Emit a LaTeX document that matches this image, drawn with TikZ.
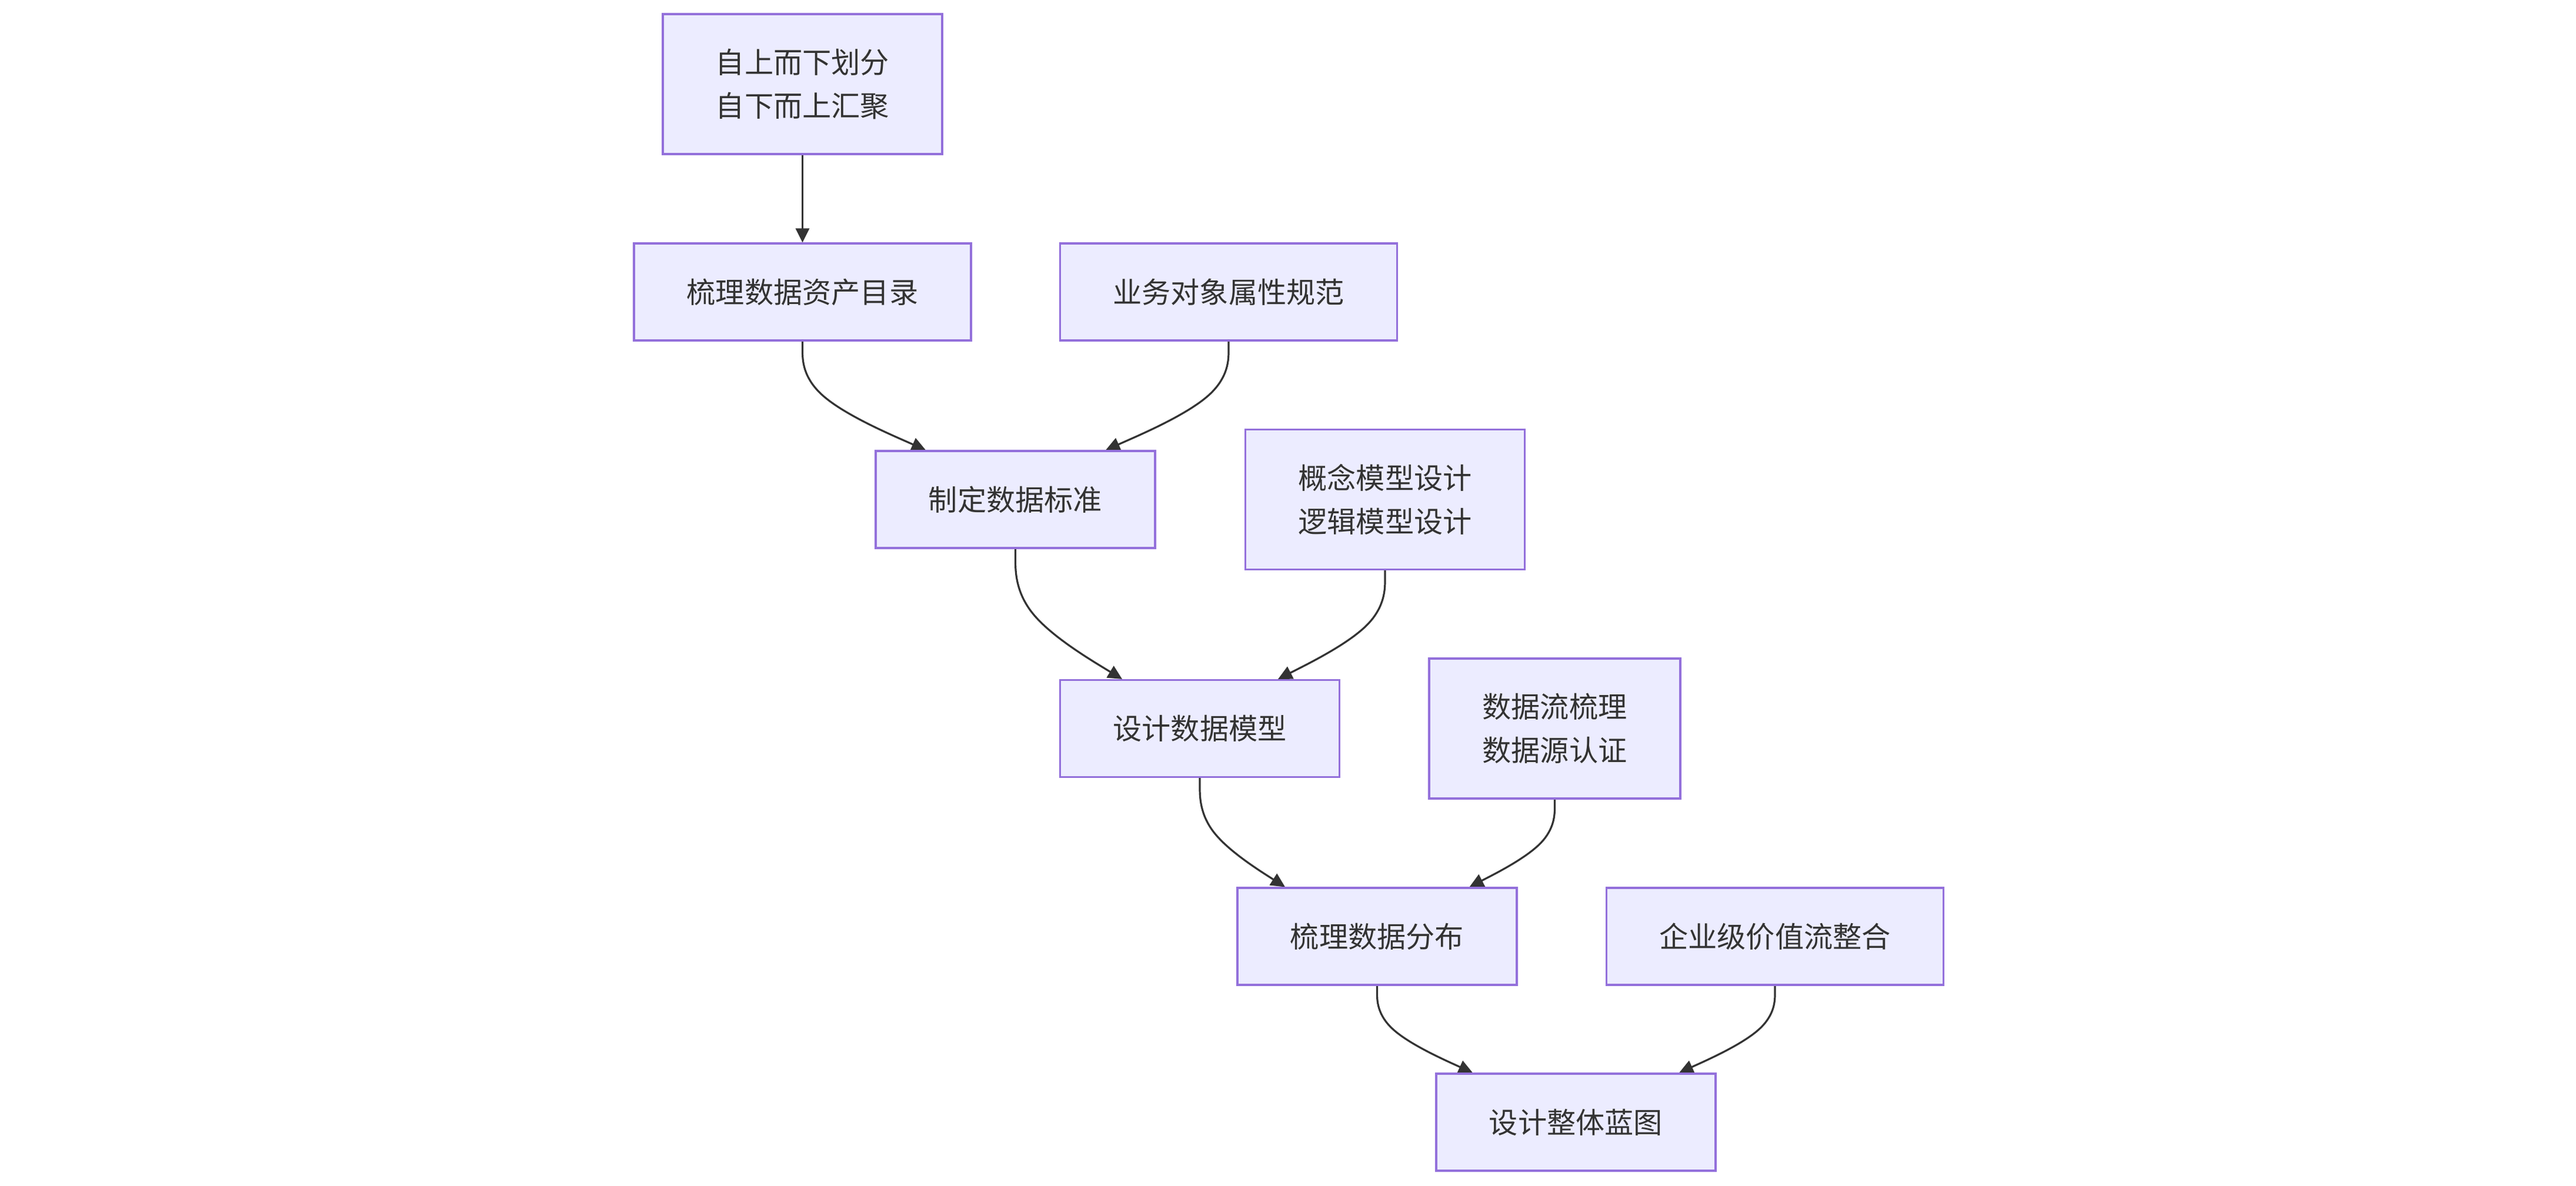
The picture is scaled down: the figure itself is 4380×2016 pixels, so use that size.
\documentclass[tikz,border=0pt]{standalone}
\usepackage{fontspec}
\newfontfamily\cjk{Noto Sans CJK SC}
\usetikzlibrary{arrows.meta,calc,backgrounds}
\definecolor{nodefill}{HTML}{ECECFF}
\definecolor{nodeline}{HTML}{9370DB}
\definecolor{ink}{HTML}{333333}
\newcommand\basisedge[3]{%
  \draw[edge] let \p1=(#1.south), \p2=($(#2.north)+(#3,0)$), \p3=($(\p1)!0.5!(\p2)$) in
    (\p1) -- (\x1,{(5*\y1+\y3)/6})
    .. controls (\x1,{(2*\y1+\y3)/3}) and (\x1,{(\y1+2*\y3)/3})
    .. ({(5*\x1+\x2)/6},{(\y1+4*\y3+\y2)/6})
    .. controls ({(2*\x1+\x2)/3},{(2*\y3+\y2)/3}) and ({(\x1+2*\x2)/3},{(\y3+2*\y2)/3})
    .. ({(\x1+5*\x2)/6},{(\y3+5*\y2)/6}) -- (\p2);%
}
\begin{document}
\begin{tikzpicture}[x=0.25pt,y=-0.25pt,
  box/.style={draw=nodeline, fill=nodefill, line width=0.8pt, text=ink,
    font=\cjk\fontsize{12.3}{18.6}\selectfont, align=center, inner sep=0pt},
  wide/.style={minimum width=143.25pt},
  mid/.style={minimum width=118.75pt},
  narrow/.style={minimum width=106.75pt},
  one/.style={minimum height=41.25pt},
  two/.style={minimum height=59.5pt},
  edge/.style={draw=ink, line width=0.8pt, -{Triangle[length=6pt,width=5.75pt]}}]
\useasboundingbox (0,0) rectangle (4380,2016);
\node[box,mid,two]    (A) at (1364.5,143)   {自上而下划分\\自下而上汇聚};
\node[box,wide,one]   (B) at (1364.5,496.5) {梳理数据资产目录};
\node[box,wide,one]   (C) at (2089,496.5)   {业务对象属性规范};
\node[box,mid,one]    (D) at (1726.5,849.5) {制定数据标准};
\node[box,mid,two]    (E) at (2355,849.5)   {概念模型设计\\逻辑模型设计};
\node[box,mid,one]    (F) at (2040,1239)    {设计数据模型};
\node[box,narrow,two] (G) at (2643.5,1239)  {数据流梳理\\数据源认证};
\node[box,mid,one]    (H) at (2341.5,1592.5){梳理数据分布};
\node[box,wide,one]   (I) at (3018,1592.5)  {企业级价值流整合};
\node[box,mid,one]    (J) at (2679.5,1908.5){设计整体蓝图};
\begin{pgfonlayer}{background}
  \fill[white] (0,0) rectangle (4380,2016);
  \draw[edge] (A.south) -- (B.north);
  \basisedge{B}{D}{-152.5}
  \basisedge{C}{D}{153.5}
  \basisedge{D}{F}{-132}
  \basisedge{E}{F}{133}
  \basisedge{F}{H}{-156.5}
  \basisedge{G}{H}{157}
  \basisedge{H}{J}{-175.5}
  \basisedge{I}{J}{175.5}
\end{pgfonlayer}
\end{tikzpicture}
\end{document}
